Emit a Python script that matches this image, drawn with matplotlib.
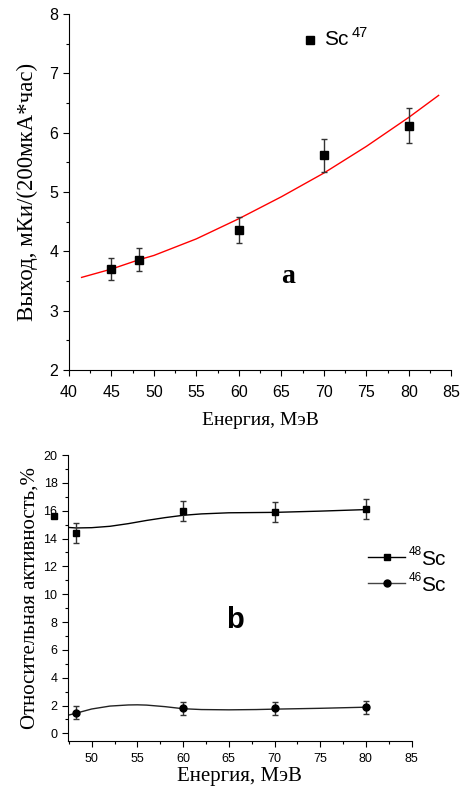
import numpy as np
import matplotlib.pyplot as plt
from matplotlib.ticker import MultipleLocator

# ---- panel a: Sc-47 yield ----
energy_a = [45, 48.3, 60, 70, 80]
yield_a = [3.70, 3.86, 4.36, 5.62, 6.12]
yield_err = [0.18, 0.19, 0.22, 0.28, 0.30]
# red fit curve
fit_x = [41.5, 45, 48.3, 50, 55, 60, 65, 70, 75, 80, 83.5]
fit_y = [3.56, 3.70, 3.86, 3.93, 4.21, 4.55, 4.92, 5.32, 5.77, 6.26, 6.63]

# ---- panel b: relative activity ----
energy_b = [48.3, 60, 70, 80]
sc48 = [14.37, 15.95, 15.88, 16.10]
sc48_err = [0.72, 0.72, 0.72, 0.72]
sc46 = [1.48, 1.80, 1.80, 1.88]
sc46_err = [0.45, 0.48, 0.48, 0.46]
# stray 48Sc marker drawn outside the axes
sc48_stray_x = [45.9]
sc48_stray_y = [15.6]
# smooth curves
c48_x = [47.4, 48.3, 50, 52, 54, 56, 58, 60, 62, 65, 70, 75, 80]
c48_y = [14.80, 14.76, 14.78, 14.88, 15.07, 15.30, 15.50, 15.67, 15.77, 15.85, 15.88, 15.97, 16.08]
c46_x = [47.4, 48.3, 50, 52, 54, 55, 56, 58, 60, 62, 65, 68, 70, 75, 80]
c46_y = [1.30, 1.45, 1.75, 1.96, 2.04, 2.05, 2.03, 1.92, 1.77, 1.71, 1.69, 1.71, 1.74, 1.80, 1.88]

serif = ['Liberation Serif', 'DejaVu Serif']
sans = ['Liberation Sans', 'DejaVu Sans']
plt.rcParams['font.family'] = sans

fig = plt.figure(figsize=(4.62, 7.87), dpi=100)

# ---------------- panel a ----------------
ax1 = fig.add_axes([0.149, 0.530, 0.828, 0.452])
ax1.plot(fit_x, fit_y, color='red', lw=1.0, zorder=2)
ax1.errorbar(energy_a, yield_a, yerr=yield_err, fmt='s', color='black',
             ms=5.5, ecolor='#333333', elinewidth=1.0, capsize=2.5, zorder=3)
ax1.set_xlim(40, 85)
ax1.set_ylim(2, 8)
ax1.xaxis.set_major_locator(MultipleLocator(5))
ax1.xaxis.set_minor_locator(MultipleLocator(2.5))
ax1.yaxis.set_major_locator(MultipleLocator(1))
ax1.yaxis.set_minor_locator(MultipleLocator(0.5))
ax1.tick_params(which='both', direction='out', labelsize=11.5, width=0.8)
ax1.tick_params(which='major', length=4)
ax1.tick_params(axis='x', which='major', pad=7)
ax1.tick_params(which='minor', length=2.5)
for s in ['top', 'right']:
    ax1.spines[s].set_visible(False)
ax1.set_xlabel('Енергия, МэВ', family=serif, fontsize=14, labelpad=8.5)
ax1.set_ylabel('Выход, мКи/(200мкА*час)', family=serif, fontsize=16.5, labelpad=8)
ax1.plot([68.4], [7.57], 's', color='black', ms=5.5)
ax1.text(70.0, 7.57, 'Sc', fontsize=15, va='center', ha='left')
ax1.text(73.3, 7.68, '47', fontsize=10.5, va='center', ha='left')
ax1.text(65.8, 3.58, 'a', family=serif, fontsize=20, fontweight='bold',
         ha='center', va='center')

# ---------------- panel b ----------------
ax2 = fig.add_axes([0.147, 0.0588, 0.744, 0.363])
ax2.plot(c48_x, c48_y, color='black', lw=1.0, zorder=2)
ax2.plot(c46_x, c46_y, color='#222222', lw=1.0, zorder=2)
ax2.errorbar(energy_b, sc48, yerr=sc48_err, fmt='s', color='black', ms=5,
             ecolor='#333333', elinewidth=1.0, capsize=2.5, zorder=3)
ax2.errorbar(energy_b, sc46, yerr=sc46_err, fmt='o', color='black', ms=5,
             ecolor='#333333', elinewidth=1.0, capsize=2.5, zorder=3)
ax2.plot(sc48_stray_x, sc48_stray_y, 's', color='black', ms=5, clip_on=False)
ax2.set_xlim(47.4, 85)
ax2.set_ylim(-0.53, 20)
ax2.xaxis.set_major_locator(MultipleLocator(5))
ax2.xaxis.set_minor_locator(MultipleLocator(2.5))
ax2.yaxis.set_major_locator(MultipleLocator(2))
ax2.yaxis.set_minor_locator(MultipleLocator(1))
ax2.tick_params(which='both', direction='out', labelsize=9, width=0.8)
ax2.tick_params(which='major', length=4)
ax2.tick_params(axis='x', which='major', pad=5)
ax2.tick_params(which='minor', length=2.5)
for s in ['top', 'right']:
    ax2.spines[s].set_visible(False)
ax2.set_xlabel('Енергия, МэВ', family=serif, fontsize=15, labelpad=1)
ax2.set_ylabel('Относительная активность,%', family=serif, fontsize=15, labelpad=3)
ax2.text(0.486, 0.422, 'b', transform=ax2.transAxes, fontsize=21,
         fontweight='bold', ha='center', va='center')

# legend for panel b, drawn by hand in figure coords
for yy, mk, lab, col in [(0.2922, 's', '48', 'black'), (0.2592, 'o', '46', '#444444')]:
    fig.lines.append(plt.Line2D([0.797, 0.877], [yy, yy], color=col, lw=1.0,
                                transform=fig.transFigure))
    fig.lines.append(plt.Line2D([0.838], [yy], marker=mk, color='black', ms=5,
                                transform=fig.transFigure))
    fig.text(0.885, yy + 0.006, lab, fontsize=8.5, ha='left', va='center')
    fig.text(0.912, yy - 0.003, 'Sc', fontsize=15, ha='left', va='center')

fig.savefig('out.png', dpi=100)
